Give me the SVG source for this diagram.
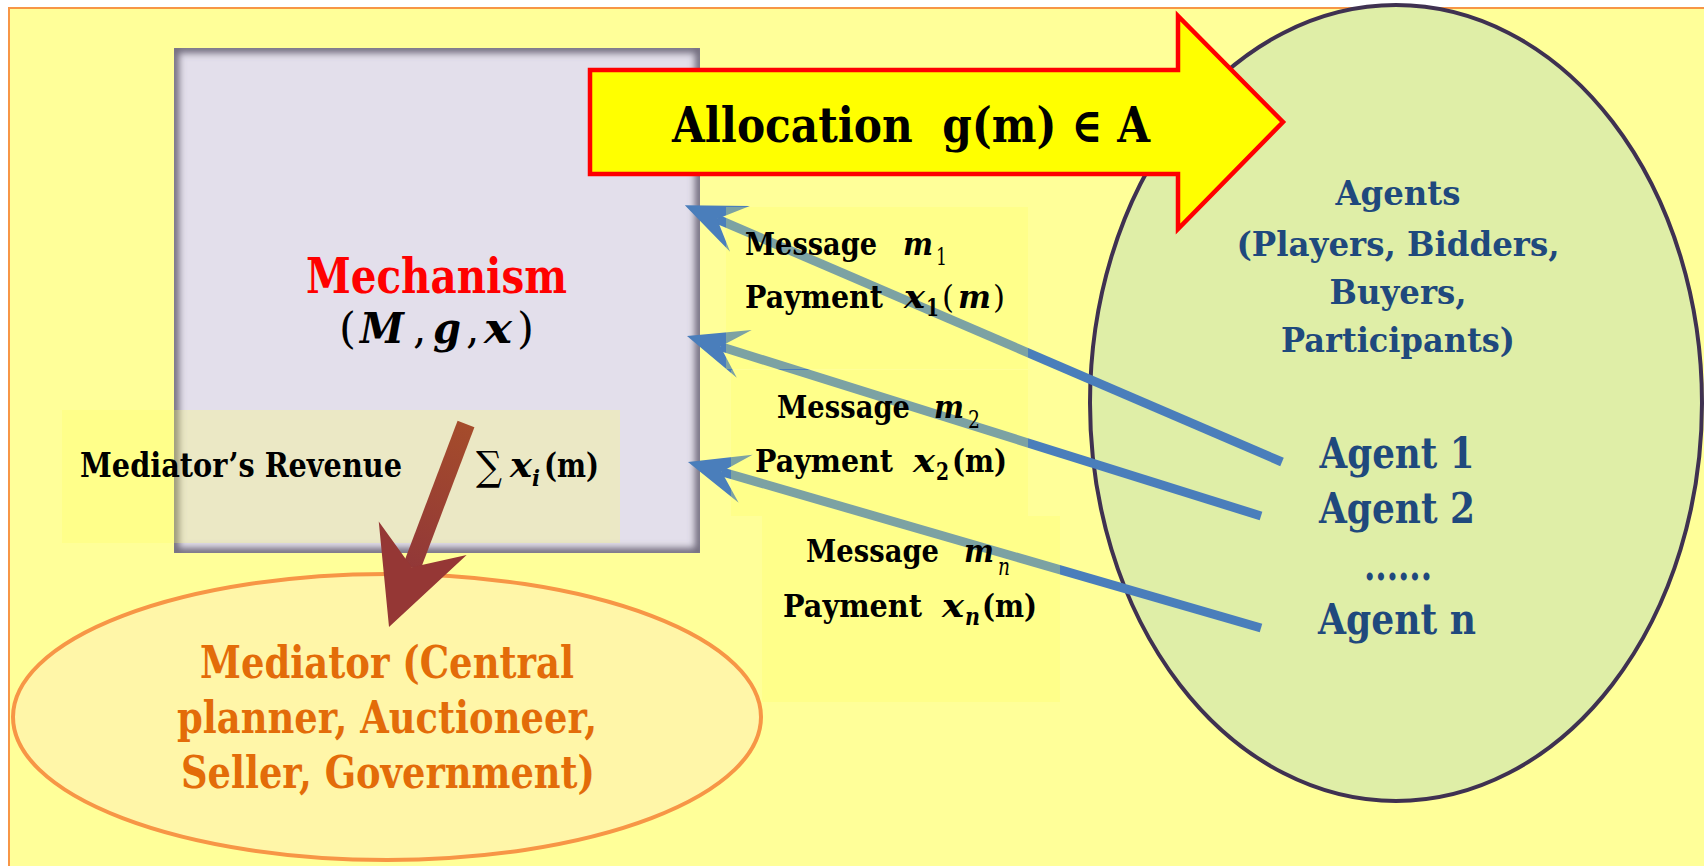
<svg xmlns="http://www.w3.org/2000/svg" width="1704" height="866" viewBox="0 0 1704 866">
<style>
.tb{font-family:"DejaVu Serif","Liberation Serif",serif;font-weight:bold;}
.ti{font-family:"DejaVu Serif","Liberation Serif",serif;font-style:italic;font-weight:bold;}
.tr{font-family:"DejaVu Serif","Liberation Serif",serif;}
.ag{font-family:"DejaVu Serif","Liberation Serif",serif;font-weight:bold;fill:#1F497D;text-anchor:middle;}
.msg{font-size:31px;fill:#000;}
.ovl{fill:#FFFF66;opacity:0.28;}
.blue{stroke:#4A7EBB;stroke-width:9;fill:none;marker-end:url(#blueHead);}
</style>
<defs>
<marker id="blueHead" markerUnits="userSpaceOnUse" viewBox="-30 -30 70 60" markerWidth="70" markerHeight="60" refX="0" refY="0" orient="auto" overflow="visible">
<path d="M35,0 L-25,-25 L0,0 L-25,25 Z" fill="#4A7EBB"/>
</marker>
<marker id="brownHead" markerUnits="userSpaceOnUse" viewBox="-35 -50 100 100" markerWidth="100" markerHeight="100" refX="0" refY="0" orient="auto" overflow="visible">
<path d="M64,0 L-31,-47 L0,0 L-31,47 Z" fill="#953735"/>
</marker>
<linearGradient id="brownGrad" gradientUnits="userSpaceOnUse" x1="466" y1="424" x2="412" y2="567">
<stop offset="0" stop-color="#A54C2B"/>
<stop offset="1" stop-color="#923838"/>
</linearGradient>
<clipPath id="mclip"><rect x="174" y="48" width="526" height="505"/></clipPath>
<filter id="soft" x="-10%" y="-10%" width="120%" height="120%"><feGaussianBlur stdDeviation="3.5"/></filter>
</defs>

<rect x="0" y="0" width="1704" height="866" fill="#FFFFFF"/>
<rect id="background" x="9" y="8" width="1702" height="866" fill="#FFFF99" stroke="#F79646" stroke-width="2"/>

<g id="mechanism">
<rect x="174" y="48" width="526" height="505" fill="#E3DFEB"/>
<rect x="174" y="48" width="526" height="505" fill="none" stroke="#6F6A7C" stroke-width="10" filter="url(#soft)" clip-path="url(#mclip)"/>
<text class="tb" x="306" y="293" font-size="48" fill="#FF0000" textLength="261" lengthAdjust="spacingAndGlyphs">Mechanism</text>
<text class="tr" font-size="42" x="339" y="343" fill="#000" textLength="17" lengthAdjust="spacingAndGlyphs">(</text>
<text class="ti" font-size="42" x="360" y="343" fill="#000" textLength="44" lengthAdjust="spacingAndGlyphs">M</text>
<text class="tr" font-size="42" x="413" y="343" fill="#000">,</text>
<text class="ti" font-size="42" x="433" y="343" fill="#000" textLength="28" lengthAdjust="spacingAndGlyphs">g</text>
<text class="tr" font-size="42" x="466" y="343" fill="#000">,</text>
<text class="ti" font-size="42" x="484" y="343" fill="#000" textLength="28" lengthAdjust="spacingAndGlyphs">x</text>
<text class="tr" font-size="42" x="517" y="343" fill="#000" textLength="17" lengthAdjust="spacingAndGlyphs">)</text>
</g>

<g id="mediator">
<ellipse cx="387" cy="717" rx="374" ry="143" fill="#FFF6A8" stroke="#F79646" stroke-width="4"/>
<text class="tb" font-size="44" fill="#E36C09" x="200" y="678" textLength="374" lengthAdjust="spacingAndGlyphs">Mediator (Central</text>
<text class="tb" font-size="44" fill="#E36C09" x="177" y="733" textLength="420" lengthAdjust="spacingAndGlyphs">planner, Auctioneer,</text>
<text class="tb" font-size="44" fill="#E36C09" x="181" y="788" textLength="414" lengthAdjust="spacingAndGlyphs">Seller, Government)</text>
</g>

<g id="agents">
<ellipse cx="1396" cy="403" rx="306" ry="398" fill="#DFEEA7" stroke="#3F3151" stroke-width="4"/>
</g>

<g id="allocation">
<path d="M590,70 L1178,70 L1178,16 L1283,122 L1178,229 L1178,174 L590,174 Z" fill="#FFFF00" stroke="#FF0000" stroke-width="4.5" stroke-linejoin="miter"/>
<text class="tb" font-size="48" fill="#000" x="672" y="142" xml:space="preserve" textLength="478" lengthAdjust="spacingAndGlyphs">Allocation  g(m) ∈ A</text>
</g>

<g id="connectors">
<line class="blue" x1="1282" y1="462" x2="717" y2="219"/>
<line class="blue" x1="1261" y1="516" x2="720.4" y2="346.5"/>
<line class="blue" x1="1261" y1="628" x2="721.6" y2="471.7"/>
</g>

<g id="message1">
<rect class="ovl" x="726" y="207" width="302" height="162"/>
<text class="tb msg" x="745" y="255" textLength="132" lengthAdjust="spacingAndGlyphs">Message</text>
<text class="ti msg" x="903" y="255" textLength="30" lengthAdjust="spacingAndGlyphs">m</text>
<text class="tr" font-size="24" x="936" y="265" textLength="11" lengthAdjust="spacingAndGlyphs">1</text>
<text class="tb msg" x="745" y="308" textLength="138" lengthAdjust="spacingAndGlyphs">Payment</text>
<text class="ti msg" x="904" y="308" textLength="21" lengthAdjust="spacingAndGlyphs">x</text>
<text class="tb" font-size="24" x="926" y="316" textLength="13" lengthAdjust="spacingAndGlyphs">1</text>
<text class="tr msg" x="942" y="308" textLength="12" lengthAdjust="spacingAndGlyphs">(</text>
<text class="ti msg" x="958" y="308" textLength="33" lengthAdjust="spacingAndGlyphs">m</text>
<text class="tr msg" x="993" y="308" textLength="12" lengthAdjust="spacingAndGlyphs">)</text>
</g>

<g id="message2">
<rect class="ovl" x="731" y="370" width="297" height="146"/>
<text class="tb msg" x="777" y="418" textLength="133" lengthAdjust="spacingAndGlyphs">Message</text>
<text class="ti msg" x="934" y="418" textLength="30" lengthAdjust="spacingAndGlyphs">m</text>
<text class="tr" font-size="24" x="968" y="428" textLength="12" lengthAdjust="spacingAndGlyphs">2</text>
<text class="tb msg" x="755" y="472" textLength="138" lengthAdjust="spacingAndGlyphs">Payment</text>
<text class="ti msg" x="913" y="472" textLength="22" lengthAdjust="spacingAndGlyphs">x</text>
<text class="tb" font-size="24" x="936" y="480" textLength="13" lengthAdjust="spacingAndGlyphs">2</text>
<text class="tb msg" x="952" y="472" textLength="55" lengthAdjust="spacingAndGlyphs">(m)</text>
</g>

<g id="message3">
<rect class="ovl" x="762" y="516" width="298" height="186"/>
<text class="tb msg" x="806" y="562" textLength="133" lengthAdjust="spacingAndGlyphs">Message</text>
<text class="ti msg" x="964" y="562" textLength="30" lengthAdjust="spacingAndGlyphs">m</text>
<text class="tr" font-size="24" font-style="italic" x="998" y="575" textLength="12" lengthAdjust="spacingAndGlyphs">n</text>
<text class="tb msg" x="783" y="617" textLength="139" lengthAdjust="spacingAndGlyphs">Payment</text>
<text class="ti msg" x="942" y="617" textLength="22" lengthAdjust="spacingAndGlyphs">x</text>
<text class="ti" font-size="24" x="965" y="625" textLength="15" lengthAdjust="spacingAndGlyphs">n</text>
<text class="tb msg" x="982" y="617" textLength="55" lengthAdjust="spacingAndGlyphs">(m)</text>
</g>

<g id="revenue">
<rect class="ovl" x="62" y="410" width="558" height="133"/>
<text class="tb" font-size="33" x="80" y="477" fill="#000" textLength="322" lengthAdjust="spacingAndGlyphs">Mediator’s Revenue</text>
<text font-family="DejaVu Serif,serif" font-size="40" x="476" y="480" fill="#000" textLength="26" lengthAdjust="spacingAndGlyphs">∑</text>
<text class="ti" font-size="33" x="510" y="477" fill="#000" textLength="22" lengthAdjust="spacingAndGlyphs">x</text>
<text class="ti" font-size="22" x="532" y="486" fill="#000" textLength="8" lengthAdjust="spacingAndGlyphs">i</text>
<text class="tb" font-size="33" x="544" y="477" fill="#000" textLength="55" lengthAdjust="spacingAndGlyphs">(m)</text>
</g>

<g id="revenue-arrow">
<line x1="466" y1="424" x2="411.7" y2="567.2" stroke="url(#brownGrad)" stroke-width="18" marker-end="url(#brownHead)"/>
</g>

<g id="agent-labels">
<text class="ag" font-size="33" x="1398" y="205" textLength="125" lengthAdjust="spacingAndGlyphs">Agents</text>
<text class="ag" font-size="33" x="1398" y="256" textLength="323" lengthAdjust="spacingAndGlyphs">(Players, Bidders,</text>
<text class="ag" font-size="33" x="1398" y="304" textLength="137" lengthAdjust="spacingAndGlyphs">Buyers,</text>
<text class="ag" font-size="33" x="1398" y="352" textLength="234" lengthAdjust="spacingAndGlyphs">Participants)</text>
<text class="ag" font-size="42" x="1397" y="468" textLength="155" lengthAdjust="spacingAndGlyphs">Agent 1</text>
<text class="ag" font-size="42" x="1397" y="523" textLength="156" lengthAdjust="spacingAndGlyphs">Agent 2</text>
<text class="ag" font-size="42" x="1398" y="580" textLength="68" lengthAdjust="spacingAndGlyphs">......</text>
<text class="ag" font-size="42" x="1397" y="634" textLength="158" lengthAdjust="spacingAndGlyphs">Agent n</text>
</g>
</svg>
